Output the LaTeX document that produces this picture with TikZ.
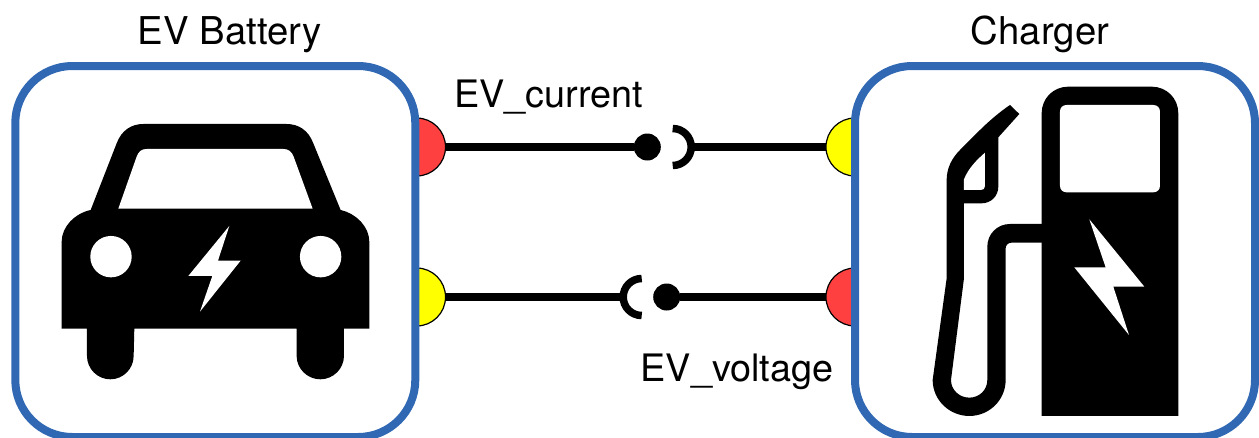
\documentclass[tikz,border=0pt]{standalone}
\usepackage{fontspec}
\setmainfont{TeX Gyre Heros}
\definecolor{boxblue}{HTML}{3068B3}
\definecolor{portred}{HTML}{FF4040}
\definecolor{portyellow}{HTML}{FFFF00}
\tikzset{
  unitbox/.style={draw=boxblue,fill=white,line width=8pt,rounded corners=57pt,minimum width=400pt,minimum height=371pt,inner sep=0pt,outer sep=0pt},
  port/.style={circle,draw=black,line width=1.2pt,minimum size=58pt,inner sep=0pt,outer sep=0pt},
  wire/.style={draw=black,line width=7.5pt},
  dotend/.style={circle,fill=black,minimum size=27pt,inner sep=0pt,outer sep=0pt},
  socketarc/.style={draw=black,line width=7.5pt},
  lbl/.style={font=\fontsize{37.8pt}{40pt}\selectfont,text=black,anchor=base,inner sep=0pt},
  ttl/.style={font=\fontsize{38.3pt}{42pt}\selectfont,text=black,anchor=base,inner sep=0pt},
}
\begin{document}
\begin{tikzpicture}[x=1pt,y=-1pt]
\useasboundingbox (0,0) rectangle (1259,437);
% ports
\node[port,fill=portred] (p1) at (416.5,147) {};
\node[port,fill=portyellow] (p2) at (416.5,297) {};
\node[port,fill=portyellow] (p3) at (855,147) {};
\node[port,fill=portred] (p4) at (855,297) {};
% connectors
\node[dotend] (d1) at (647.3,147) {};
\node[dotend] (d2) at (666.7,297) {};
\coordinate (s1) at (672.7,147);
\coordinate (s2) at (641.7,297);
\coordinate (s1e) at (690,147);
\coordinate (s2e) at (624.4,297);
\draw[wire] (p1.east) -- (d1);
\draw[wire] (s1e) -- (p3.west);
\draw[wire] (p2.east) -- (s2e);
\draw[wire] (d2) -- (p4.west);
\draw[socketarc] (s1) ++(0,-18.5) arc[start angle=90,end angle=-90,radius=18.5pt];
\draw[socketarc] (s2) ++(0,-18.5) arc[start angle=90,end angle=270,radius=18.5pt];
% boxes
\node[unitbox] (battery) at (215.3,251.5) {};
\node[unitbox] (charger) at (1055,251.5) {};
% labels
\node[ttl] (t1) at (229.5,44) {EV Battery};
\node[ttl] (t2) at (1040,44) {Charger};
\node[lbl] (t3) at (548.5,107) {EV\_current};
\node[lbl] (t4) at (737,381) {EV\_voltage};
% car
\begin{scope}[shift={(0,50)},x=0.3333pt,y=-0.3333pt]
\fill[black] (185,836) -- (185,575) .. controls (185,530) and (225,490) .. (272,480)
 -- (350,280) .. controls (365,240) and (395,222) .. (430,222)
 -- (860,222) .. controls (895,222) and (925,240) .. (940,280)
 -- (1022,480) .. controls (1068,490) and (1108,530) .. (1108,575)
 -- (1108,836) -- (1032,836) -- (1032,918) .. controls (1032,956) and (1000,988) .. (961,988)
 .. controls (922,988) and (890,956) .. (890,918) -- (890,836) -- (403,836) -- (401,918)
 .. controls (401,956) and (370,988) .. (331,988) .. controls (292,988) and (261,956) .. (261,918)
 -- (261,836) -- cycle;
\fill[white] (355,476) -- (410,320) .. controls (416,304) and (425,297) .. (440,297)
 -- (850,297) .. controls (865,297) and (875,304) .. (881,320) -- (938,476) -- cycle;
\fill[white] (333,620) circle[radius=20.7pt];
\fill[white] (962,620) circle[radius=20.7pt];
\fill[white] (688,528) -- (654,632) -- (722,632) -- (600,785) -- (637,678) -- (565,678) -- cycle;
\end{scope}
% pump
\begin{scope}[shift={(840,50)},x=0.3333pt,y=-0.3333pt]
\fill[black] (605,1098) -- (605,190) .. controls (605,145) and (640,110) .. (685,110)
 -- (935,110) .. controls (980,110) and (1015,145) .. (1015,190) -- (1015,1098) -- cycle;
\fill[white] (680,165) -- (940,165) .. controls (952,165) and (960,173) .. (960,185)
 -- (960,407) .. controls (960,419) and (952,427) .. (940,427) -- (680,427)
 .. controls (668,427) and (660,419) .. (660,407) -- (660,185) .. controls (660,173) and (668,165) .. (680,165) -- cycle;
\fill[white] (748,508) -- (797,652) -- (703,652) -- (867,855) -- (820,710) -- (913,710) -- cycle;
\fill[black] (610,522) -- (510,522) .. controls (472,522) and (442,552) .. (442,590)
 -- (442,990) .. controls (442,1020) and (418,1043) .. (388,1043)
 .. controls (358,1043) and (333,1020) .. (333,990)
 -- (372,685) -- (372,460) -- (425,460) .. controls (453,460) and (475,438) .. (475,410)
 -- (475,262) -- (538,192) -- (510,165) .. controls (480,185) and (445,215) .. (420,240)
 -- (360,300) .. controls (335,325) and (320,355) .. (320,390)
 -- (320,685) -- (278,990) .. controls (278,1050) and (328,1098) .. (388,1098)
 .. controls (448,1098) and (497,1050) .. (497,990)
 -- (497,595) .. controls (497,585) and (505,578) .. (515,578) -- (610,578) -- cycle;
\fill[white] (372,420) -- (372,388) .. controls (385,355) and (410,330) .. (435,308)
 -- (435,408) .. controls (435,416) and (430,420) .. (423,420) -- cycle;
\end{scope}
\end{tikzpicture}
\end{document}
